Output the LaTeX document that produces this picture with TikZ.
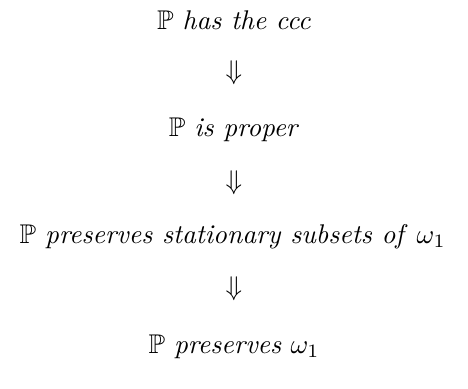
\documentclass[tikz,border=0pt]{standalone}
\usepackage{amssymb}
\begin{document}
\begin{tikzpicture}[x=1pt,y=1pt,
  stmt/.style={inner sep=0pt, anchor=center},
  impl/.style={inner sep=0pt, anchor=center}]
\useasboundingbox (0,0) rectangle (173,143.43);
\node[stmt] (a) at (86.5,136.0) {$\mathbb{P}$ \textit{has the ccc}};
\node[impl] (i1) at (86.5,116.5) {$\Downarrow$};
\node[stmt] (b) at (86.5,95.4) {$\mathbb{P}$ \textit{is proper}};
\node[impl] (i2) at (86.5,75.8) {$\Downarrow$};
\node[stmt] (c) at (86.0,56.0) {$\mathbb{P}$ \textit{preserves stationary subsets of} $\omega_1$};
\node[impl] (i3) at (86.5,36.6) {$\Downarrow$};
\node[stmt] (d) at (86.5,15.2) {$\mathbb{P}$ \textit{preserves} $\omega_1$};
\end{tikzpicture}
\end{document}
